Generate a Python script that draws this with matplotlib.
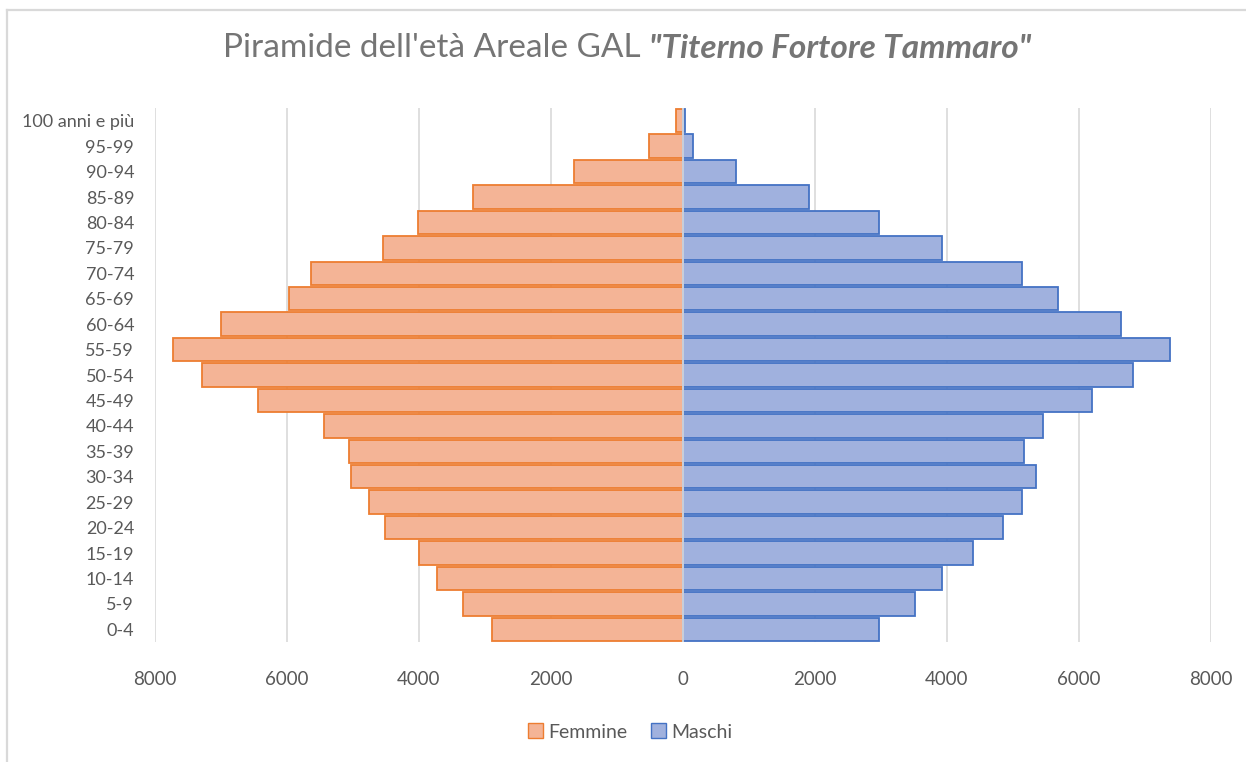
import numpy as np
import matplotlib
matplotlib.use("Agg")
import matplotlib.pyplot as plt
from matplotlib.lines import Line2D
from matplotlib.patches import Patch

plt.rcParams['font.family'] = ['Lato', 'DejaVu Sans']

# age classes, bottom to top
age_groups = ["0-4", "5-9", "10-14", "15-19", "20-24", "25-29", "30-34", "35-39",
              "40-44", "45-49", "50-54", "55-59", "60-64", "65-69", "70-74",
              "75-79", "80-84", "85-89", "90-94", "95-99", "100 anni e più"]
femmine = [2895, 3331, 3722, 3997, 4514, 4764, 5026, 5056, 5432, 6444, 7286,
           7722, 6995, 5973, 5642, 4553, 4018, 3180, 1647, 519, 100]
maschi = [2970, 3510, 3918, 4398, 4842, 5130, 5352, 5172, 5460, 6192, 6822,
          7374, 6642, 5688, 5136, 3930, 2976, 1908, 810, 144, 30]
x_ticks = [-8000, -6000, -4000, -2000, 0, 2000, 4000, 6000, 8000]

W, H = 1246, 762
fig = plt.figure(figsize=(W / 100, H / 100), dpi=100)
ax = fig.add_axes([155 / W, 1 - 642 / H, (1211 - 155) / W, (642 - 108) / H])

txt_gray = '#595959'
grid_gray = '#d9d9d9'
y = np.arange(len(age_groups))

ax.barh(y, -np.array(femmine), height=0.92, color='#F4B496', edgecolor='#ED7D31',
        linewidth=1.3, label='Femmine', zorder=2)
ax.barh(y, maschi, height=0.92, color='#A0B1DE', edgecolor='#4472C4',
        linewidth=1.3, label='Maschi', zorder=2)
ax.axvline(0, color='#e0e0e0', linewidth=1.2, zorder=3)

ax.set_xlim(-8000, 8000)
ax.set_ylim(-0.5, len(age_groups) - 0.5)
ax.set_xticks(x_ticks)
ax.set_xticklabels([str(abs(v)) for v in x_ticks])
ax.set_yticks(y)
ax.set_yticklabels(age_groups)
ax.tick_params(axis='both', length=0, colors=txt_gray, labelsize=13.5)
ax.tick_params(axis='x', pad=21)
ax.tick_params(axis='y', pad=15, labelsize=13)
ax.grid(axis='x', color=grid_gray, linewidth=1.2, zorder=0)
ax.set_axisbelow(True)
for s in ax.spines.values():
    s.set_visible(False)

# title with bold italic part
title_y = 1 - 48 / H
t1 = fig.text(0, title_y, "Piramide dell'età Areale GAL ", fontsize=24,
              color='#757575', va='center', ha='left')
t2 = fig.text(0, title_y, '"Titerno Fortore Tammaro"', fontsize=24,
              color='#757575', va='center', ha='left', fontweight='bold', fontstyle='italic')
fig.canvas.draw()
r = fig.canvas.get_renderer()
w1 = t1.get_window_extent(r).width
w2 = t2.get_window_extent(r).width
x0 = 627 - (w1 + w2) / 2
t1.set_x(x0 / W)
t2.set_x((x0 + w1) / W)

handles = [Patch(facecolor='#F4B496', edgecolor='#ED7D31', label='Femmine'),
           Patch(facecolor='#A0B1DE', edgecolor='#4472C4', label='Maschi')]
fig.legend(handles=handles, loc='center', bbox_to_anchor=(630 / W, 1 - 732 / H),
           ncol=2, frameon=False, fontsize=14, handlelength=0.8, handleheight=0.8,
           handletextpad=0.25, columnspacing=1.2, labelcolor=txt_gray)

# chart area border (top and left visible)
fig.add_artist(Line2D([7 / W, 1], [1 - 10 / H, 1 - 10 / H], color=grid_gray, linewidth=1.6))
fig.add_artist(Line2D([7 / W, 7 / W], [0, 1 - 10 / H], color=grid_gray, linewidth=1.6))

fig.savefig('out.png', dpi=100, facecolor='white')
